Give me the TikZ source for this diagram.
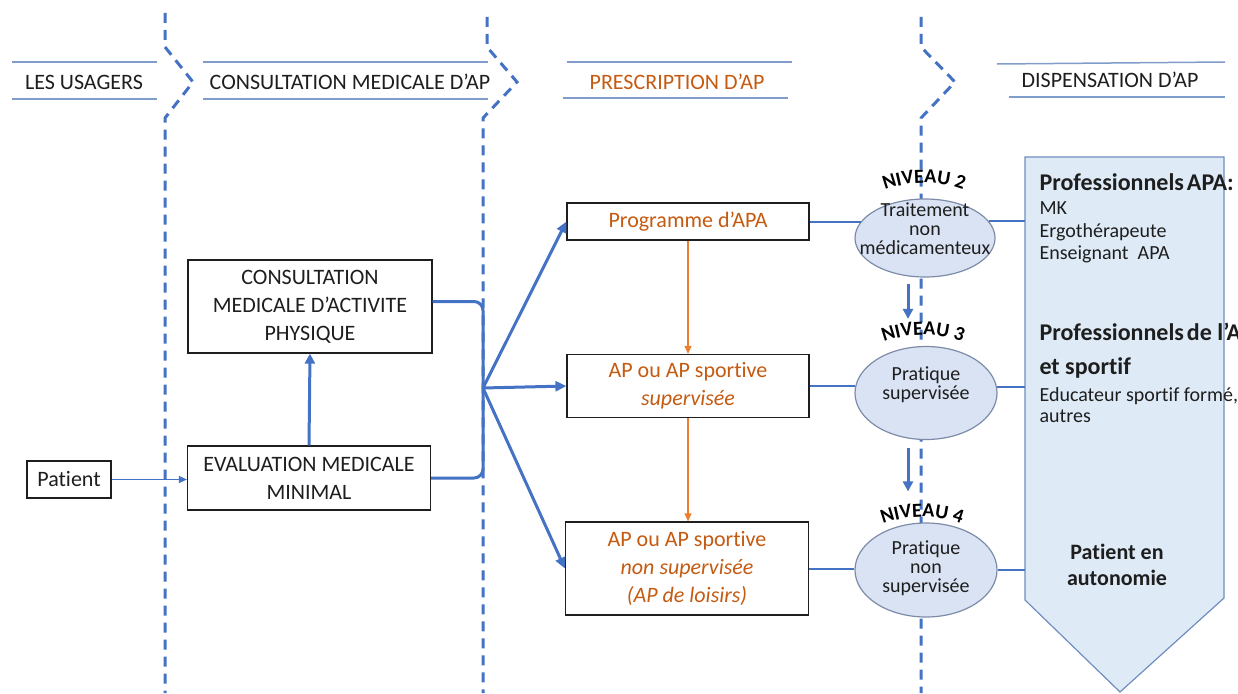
\documentclass[tikz,border=0pt]{standalone}
\usepackage{fontspec}
\setmainfont{Carlito}[Ligatures=NoCommon]
\usetikzlibrary{arrows.meta,shapes.geometric,decorations.text}

\definecolor{lineblue}{HTML}{4472C4}
\definecolor{rulegrey}{HTML}{7F9CCB}
\definecolor{txtorange}{HTML}{C55A11}
\definecolor{arrorange}{HTML}{ED7D31}
\definecolor{ellfill}{HTML}{DAE3F3}
\definecolor{elldraw}{HTML}{7C8CA8}
\definecolor{pnlfill}{HTML}{DEEBF7}
\definecolor{pnldraw}{HTML}{6F8DBF}
\definecolor{ink}{HTML}{1E1E1E}

\begin{document}
\begin{tikzpicture}[x=1pt,y=-1pt,
  font=\fontsize{22}{28}\selectfont, text=ink,
  box/.style={draw=ink, line width=1.2pt, fill=white, align=center, inner sep=0pt},
  lane/.style={lineblue, line width=3pt, dash pattern=on 10pt off 7pt},
  rule/.style={rulegrey, line width=1.5pt},
  ell/.style={ellipse, draw=elldraw, line width=1.2pt, fill=ellfill, inner sep=0pt},
  elltxt/.style={align=center, font=\fontsize{20}{19}\selectfont},
  fanarrow/.style={lineblue, line width=3pt, -{Triangle[length=11pt,width=10pt]}},
  bracket/.style={lineblue, line width=3pt, rounded corners=9pt},
  link/.style={lineblue, line width=2pt},
  steparrow/.style={lineblue, line width=3pt, -{Triangle[length=10pt,width=10pt]}},
  thinarrow/.style={lineblue, line width=1.3pt, -{Triangle[length=8pt,width=7pt]}},
  orangearrow/.style={arrorange, line width=1.3pt, -{Triangle[length=8pt,width=7pt]}},
  pnltxt/.style={anchor=base west, font=\fontsize{20}{22}\selectfont},
  pnlhead/.style={anchor=base west, font=\fontsize{24}{28}\selectfont\bfseries},
  niveau/.style={decorate, decoration={text along path, text align=center,
    text={|\fontsize{20}{20}\selectfont\bfseries|#1}}}
]
\useasboundingbox (0,0) rectangle (1238,693);

% swim-lane separators with chevrons
\draw[lane] (165,13) -- (165,47) -- (193,82) -- (165,118) -- (165,693);
\draw[lane] (487,17) -- (487,47) -- (517,82) -- (483,118) -- (483,693);
\draw[lane] (921,17) -- (921,47) -- (955,82) -- (921,118) -- (921,693);

% lane headers
\draw[rule] (12,62) -- (157,62);  \draw[rule] (12,99) -- (157,99);
\node (hUs) at (84,82) {LES USAGERS};
\draw[rule] (203,62) -- (488,62); \draw[rule] (203,99) -- (488,99);
\node (hCo) at (350,82) {CONSULTATION MEDICALE D’AP};
\draw[rule] (567,62) -- (792,62); \draw[rule] (563,98) -- (788,98);
\node[text=txtorange] (hPr) at (677,82) {PRESCRIPTION D’AP};
\draw[rule] (997,64) -- (1225,62); \draw[rule] (1009,97) -- (1225,97);
\node (hDi) at (1110,80) {DISPENSATION D’AP};

% dispensation panel (downward arrow shape)
\draw[pnldraw, fill=pnlfill, line width=1.2pt]
  (1025,157) -- (1224,157) -- (1224,598) -- (1120,692) -- (1025,600) -- cycle;
\coordinate (pnlL) at (1025,400);

% patient side
\node[box, minimum width=84pt, minimum height=37pt] (patient) at (69,479.5) {Patient};
\node[box, minimum width=243pt, minimum height=64pt] (eval) at (309,478) {EVALUATION MEDICALE\\MINIMAL};
\node[box, minimum width=244pt, minimum height=93pt] (consult) at (310,306.5) {CONSULTATION\\MEDICALE D’ACTIVITE\\PHYSIQUE};

\draw[thinarrow] (patient.east) -- (patient.east -| eval.west);
\draw[steparrow] (eval.north) -- (consult.south);

% prescription boxes
\node[box, text=txtorange, minimum width=242pt, minimum height=37pt] (prog) at (688,221.5) {Programme d’APA};
\node[box, text=txtorange, minimum width=242pt, minimum height=63pt] (apsup) at (688,386) {AP ou AP sportive\\\textit{supervisée}};
\node[box, text=txtorange, minimum width=243pt, minimum height=93pt] (apnon) at (687,568.5) {AP ou AP sportive\\\textit{non supervisée}\\\textit{(AP de loisirs)}};

\draw[orangearrow] (prog.south) -- (apsup.north);
\draw[orangearrow] (apsup.south) -- (apsup.south |- apnon.north);

% bracket joining the consultation steps, then fan-out
\coordinate (fan) at (483,388);
\draw[bracket] ([yshift=5pt]consult.east) -| (fan) |- (eval.east);
\draw[fanarrow] (fan) -- (prog.west);
\draw[fanarrow] (fan) -- (apsup.west);
\draw[fanarrow] (fan) -- (apnon.west);

% levels
\node[ell, minimum width=140pt, minimum height=78pt] (n2) at (925,238) {};
\node[ell, minimum width=142pt, minimum height=93pt] (n3) at (926,393) {};
\node[ell, minimum width=142pt, minimum height=94pt] (n4) at (926,570) {};
\node[elltxt] (n2t) at (925,229) {Traitement\\non\\médicamenteux};
\node[elltxt] (n3t) at (926,385) {Pratique\\supervisée};
\node[elltxt] (n4t) at (926,568) {Pratique\\non\\supervisée};

\path[niveau={NIVEAU 2}] ([shift={(120:110pt)}]924,293) arc[start angle=120, end angle=60, radius=110pt];
\path[niveau={NIVEAU 3}] ([shift={(120:110pt)}]923,445) arc[start angle=120, end angle=60, radius=110pt];
\path[niveau={NIVEAU 4}] ([shift={(120:110pt)}]922,627) arc[start angle=120, end angle=60, radius=110pt];

\coordinate (vx) at (908,0);
\draw[steparrow, shorten <=6pt, shorten >=27pt] (n2.south -| vx) -- (n3.north -| vx);
\draw[steparrow, shorten <=8pt, shorten >=31pt] (n3.south -| vx) -- (n4.north -| vx);

% links prescription -> level -> dispensation
\draw[link] (prog.east) -- (prog.east -| n2.165);
\draw[link] (n2.15) -- (n2.15 -| pnlL);
\draw[link] (apsup.east) -- (apsup.east -| n3.175);
\draw[link] (n3.5) -- (n3.5 -| pnlL);
\draw[link] (apnon.east) -- (apnon.east -| n4.west);
\draw[link] (n4.east) -- (n4.east -| pnlL);

% dispensation texts
\node[pnlhead] (pa1) at (1036,190) {Professionnels\hspace{3pt}APA:};
\node[pnltxt] (pa2) at (1036,214) {MK};
\node[pnltxt] (pa3) at (1036,237) {Ergothérapeute};
\node[pnltxt] (pa4) at (1036,259) {Enseignant\ \ APA};
\node[pnlhead] (pb1) at (1036,340) {Professionnels\hspace{3pt}de l’AP};
\node[pnlhead] (pb2) at (1036,374) {et sportif};
\node[pnltxt] (pb3) at (1036,401) {Educateur sportif formé,};
\node[pnltxt] (pb4) at (1036,422) {autres};
\node[align=center, font=\fontsize{22}{26}\selectfont\bfseries] (auto) at (1117,565) {Patient en\\autonomie};
\end{tikzpicture}
\end{document}
